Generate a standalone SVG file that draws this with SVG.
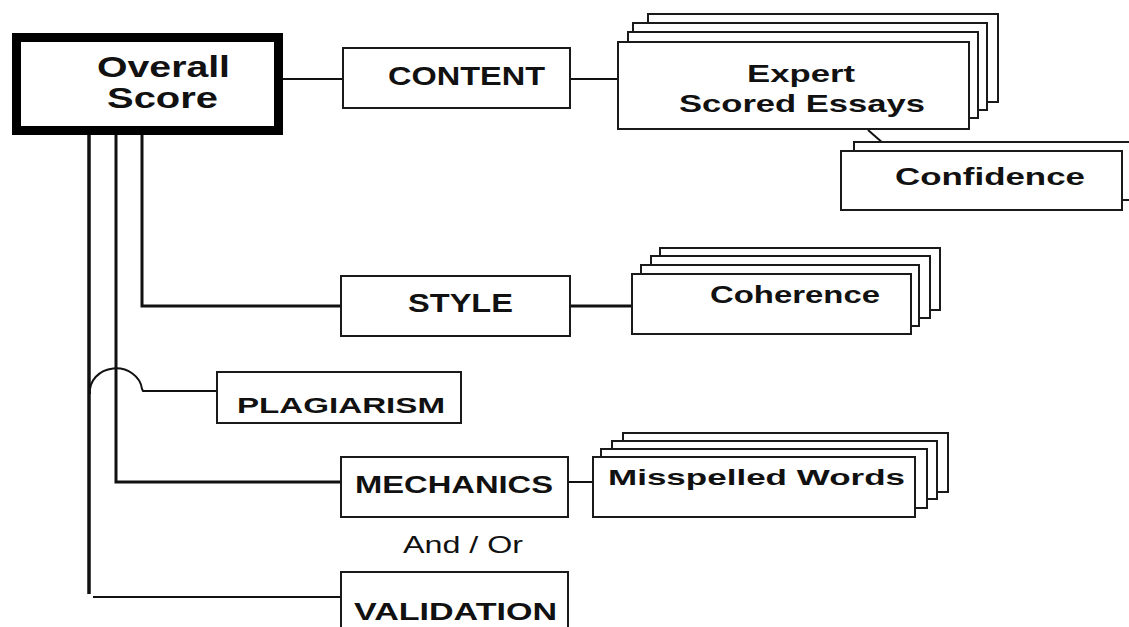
<svg xmlns="http://www.w3.org/2000/svg" width="1129" height="627" viewBox="0 0 1129 627">
  <style>
    .box { fill: #fff; stroke: #1a1a1a; stroke-width: 2; }
    .root { fill: #fff; stroke: #000; stroke-width: 9; }
    .lbl { font-family: "Liberation Sans", Arial, sans-serif; font-weight: bold; fill: #111; }
    .plain { font-family: "Liberation Sans", Arial, sans-serif; fill: #111; }
    .wire { fill: none; stroke: #111; stroke-width: 2; }
    .trunk { fill: none; stroke: #111; stroke-width: 3; }
  </style>
  <rect width="1129" height="627" fill="#fff"/>

  <!-- connectors -->
  <g id="connectors">
    <line class="wire" x1="283" y1="79" x2="343" y2="79"/>
    <line class="wire" x1="570" y1="79" x2="618" y2="79"/>
    <line class="wire" x1="868" y1="130" x2="892" y2="151"/>
    <polyline class="trunk" points="142,135 142,306 341,306"/>
    <line class="trunk" x1="570" y1="306" x2="632" y2="306"/>
    <polyline class="trunk" points="116,135 116,482 341,482"/>
    <line class="wire" x1="568" y1="482" x2="593" y2="482"/>
    <line class="trunk" x1="89" y1="135" x2="89" y2="594" style="stroke-width:3.5"/>
    <line class="wire" x1="93" y1="597" x2="341" y2="597"/>
    <path class="wire" d="M 90 394 A 26 23 0 0 1 142 389 L 143 391 L 217 391"/>
  </g>

  <!-- root node -->
  <g id="overall-score">
    <rect class="root" x="16.5" y="37.5" width="262" height="93"/>
    <text class="lbl" x="97" y="77" font-size="30" textLength="133" lengthAdjust="spacingAndGlyphs">Overall</text>
    <text class="lbl" x="107" y="108" font-size="30" textLength="111" lengthAdjust="spacingAndGlyphs">Score</text>
  </g>

  <g id="content">
    <rect class="box" x="343" y="48" width="227" height="60"/>
    <text class="lbl" x="388" y="85" font-size="26" textLength="157" lengthAdjust="spacingAndGlyphs">CONTENT</text>
  </g>

  <g id="expert-scored-essays">
    <rect class="box" x="648" y="14" width="350" height="88"/>
    <rect class="box" x="633" y="23" width="354" height="87"/>
    <rect class="box" x="628" y="32" width="350" height="86"/>
    <rect class="box" x="618" y="42" width="351" height="87"/>
    <text class="lbl" x="747" y="82" font-size="24" textLength="108" lengthAdjust="spacingAndGlyphs">Expert</text>
    <text class="lbl" x="679" y="112" font-size="24" textLength="246" lengthAdjust="spacingAndGlyphs">Scored  Essays</text>
  </g>

  <g id="confidence">
    <rect class="box" x="854" y="142" width="290" height="58"/>
    <rect class="box" x="841" y="151" width="281" height="59"/>
    <text class="lbl" x="895" y="185" font-size="24" textLength="190" lengthAdjust="spacingAndGlyphs">Confidence</text>
  </g>

  <g id="style">
    <rect class="box" x="341" y="276" width="229" height="60"/>
    <text class="lbl" x="408" y="312" font-size="25" textLength="105" lengthAdjust="spacingAndGlyphs">STYLE</text>
  </g>

  <g id="coherence">
    <rect class="box" x="660" y="248" width="280" height="62"/>
    <rect class="box" x="651" y="256" width="279" height="62"/>
    <rect class="box" x="641" y="265" width="278" height="61"/>
    <rect class="box" x="632" y="274" width="279" height="60"/>
    <text class="lbl" x="710" y="303" font-size="23" textLength="170" lengthAdjust="spacingAndGlyphs">Coherence</text>
  </g>

  <g id="plagiarism">
    <rect class="box" x="217" y="372" width="244" height="51"/>
    <text class="lbl" x="237" y="413" font-size="22" textLength="208" lengthAdjust="spacingAndGlyphs">PLAGIARISM</text>
  </g>

  <g id="mechanics">
    <rect class="box" x="341" y="457" width="227" height="60"/>
    <text class="lbl" x="355" y="493" font-size="24" textLength="198" lengthAdjust="spacingAndGlyphs">MECHANICS</text>
  </g>

  <g id="misspelled-words">
    <rect class="box" x="623" y="433" width="325" height="59"/>
    <rect class="box" x="612" y="441" width="325" height="58"/>
    <rect class="box" x="601" y="449" width="326" height="59"/>
    <rect class="box" x="593" y="457" width="322" height="60"/>
    <text class="lbl" x="608" y="485" font-size="22" textLength="297" lengthAdjust="spacingAndGlyphs">Misspelled  Words</text>
  </g>

  <g id="and-or">
    <text class="plain" x="403" y="553" font-size="24" textLength="120" lengthAdjust="spacingAndGlyphs">And / Or</text>
  </g>

  <g id="validation">
    <rect class="box" x="341" y="572" width="227" height="70"/>
    <text class="lbl" x="354" y="620" font-size="24" textLength="203" lengthAdjust="spacingAndGlyphs">VALIDATION</text>
  </g>
</svg>
